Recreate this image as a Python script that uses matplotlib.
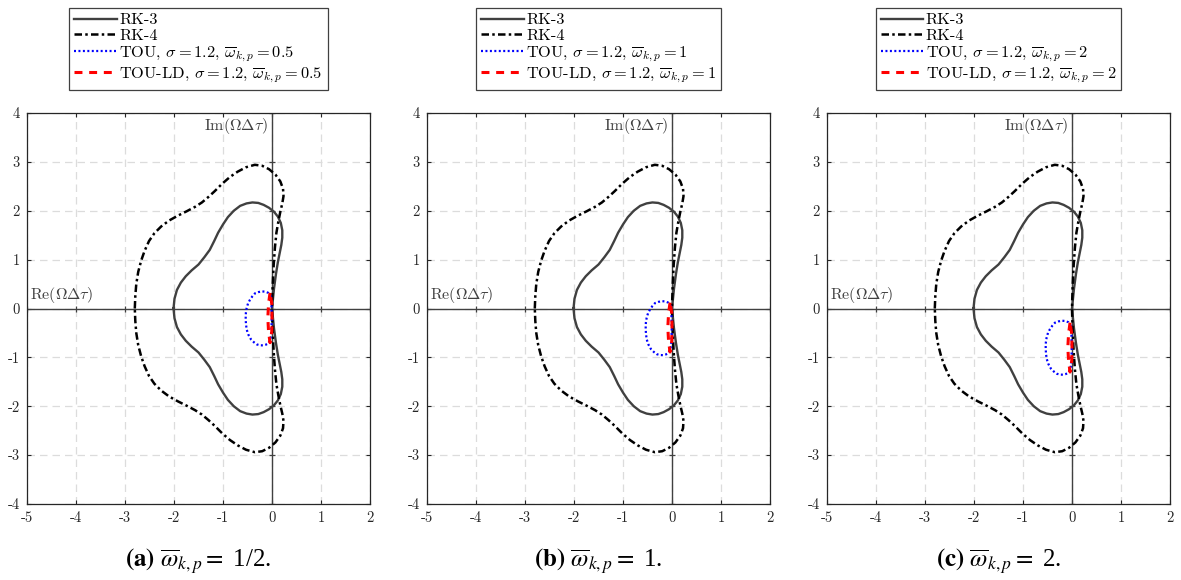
import numpy as np
import matplotlib
matplotlib.use('Agg')
import matplotlib.pyplot as plt

plt.rcParams['font.family'] = ['cmr10']
plt.rcParams['mathtext.fontset'] = 'cm'
plt.rcParams['axes.unicode_minus'] = False

# stability boundaries (upper half, curves are symmetric)
rk3_re = [-2.01, -1.99, -1.94, -1.86, -1.76, -1.64, -1.50, -1.38, -1.27, -1.18,
          -1.10, -1.00, -0.90, -0.78, -0.65, -0.52, -0.40, -0.28, -0.17, -0.06,
          0.04, 0.12, 0.18, 0.21, 0.21, 0.19, 0.16, 0.12, 0.08, 0.04, 0.015, 0.0]
rk3_im = [0.0, 0.20, 0.38, 0.53, 0.66, 0.78, 0.90, 1.05, 1.20, 1.38,
          1.55, 1.72, 1.87, 2.00, 2.10, 2.15, 2.17, 2.16, 2.12, 2.06,
          1.98, 1.88, 1.75, 1.60, 1.45, 1.30, 1.15, 0.95, 0.70, 0.40, 0.15, 0.0]

rk4_re = [-2.80, -2.79, -2.77, -2.73, -2.67, -2.60, -2.51, -2.40, -2.26, -2.10,
          -1.92, -1.74, -1.57, -1.43, -1.30, -1.17, -1.02, -0.86, -0.70, -0.53,
          -0.35, -0.20, -0.06, 0.07, 0.17, 0.225, 0.235, 0.21, 0.17, 0.13,
          0.09, 0.06, 0.035, 0.015, 0.005, 0.0]
rk4_im = [0.0, 0.25, 0.50, 0.75, 0.98, 1.18, 1.38, 1.54, 1.68, 1.80,
          1.90, 1.99, 2.08, 2.17, 2.28, 2.40, 2.55, 2.69, 2.80, 2.89,
          2.94, 2.92, 2.85, 2.74, 2.60, 2.45, 2.30, 2.15, 1.98, 1.78,
          1.55, 1.25, 0.90, 0.50, 0.20, 0.0]

# TOU curves, one per panel
tou_re = [-0.02, -0.075, -0.14, -0.21, -0.28, -0.347, -0.40, -0.449, -0.49, -0.517,
          -0.533, -0.537, -0.532, -0.517, -0.48, -0.43, -0.37, -0.31, -0.245, -0.18,
          -0.125, -0.075, -0.04, -0.02, -0.01, -0.005, -0.01, -0.02]
tou_im_a = [0.24, 0.32, 0.345, 0.35, 0.335, 0.31, 0.25, 0.18, 0.10, 0.01,
            -0.09, -0.19, -0.31, -0.43, -0.54, -0.63, -0.69, -0.735, -0.752, -0.755,
            -0.74, -0.714, -0.65, -0.565, -0.38, -0.19, 0.02, 0.24]
tou_im_b = [0.04, 0.12, 0.145, 0.15, 0.135, 0.11, 0.05, -0.02, -0.10, -0.19,
            -0.29, -0.39, -0.51, -0.63, -0.74, -0.83, -0.89, -0.935, -0.952, -0.955,
            -0.94, -0.914, -0.85, -0.765, -0.58, -0.39, -0.18, 0.04]
tou_im_c = [-0.36, -0.28, -0.255, -0.25, -0.265, -0.29, -0.35, -0.42, -0.50, -0.59,
            -0.69, -0.79, -0.91, -1.03, -1.14, -1.23, -1.29, -1.335, -1.352, -1.355,
            -1.34, -1.314, -1.25, -1.165, -0.98, -0.79, -0.58, -0.36]

# TOU-LD curves
ld_re = [-0.04, -0.07, -0.085, -0.07, -0.04, -0.005, 0.0, -0.005, -0.04]
ld_im_a = [0.32, 0.1, -0.19, -0.48, -0.70, -0.48, -0.19, 0.1, 0.32]
ld_im_b = [0.12, -0.1, -0.385, -0.67, -0.89, -0.67, -0.385, -0.1, 0.12]
ld_im_c = [-0.29, -0.52, -0.795, -1.07, -1.30, -1.07, -0.795, -0.52, -0.29]

omega_vals = ['0.5', '1', '2']
captions = ['1/2.', '1.', '2.']
letters = ['(a)', '(b)', '(c)']
tou_ims = [tou_im_a, tou_im_b, tou_im_c]
ld_ims = [ld_im_a, ld_im_b, ld_im_c]

xticks = [-5, -4, -3, -2, -1, 0, 1, 2]
yticks = [-4, -3, -2, -1, 0, 1, 2, 3, 4]


def closed(re, im):
    re = np.array(re)
    im = np.array(im)
    return np.r_[re, re[-2::-1]], np.r_[im, -im[-2::-1]]


rk3_x, rk3_y = closed(rk3_re, rk3_im)
rk4_x, rk4_y = closed(rk4_re, rk4_im)

fig = plt.figure(figsize=(11.81, 5.8), dpi=100)
lefts = [27/1181, 427/1181, 827/1181]
axc = '#262626'

for i in range(3):
    ax = fig.add_axes([lefts[i], 76/580, 343/1181, 391/580])
    ax.set_xlim(-5, 2)
    ax.set_ylim(-4, 4)
    ax.grid(True, color='#dcdcdc', linestyle=(0, (6, 4)), linewidth=0.9)
    ax.set_axisbelow(True)
    ax.axhline(0, color='#404040', lw=1.0, zorder=1.5)
    ax.axvline(0, color='#404040', lw=1.0, zorder=1.5)
    ax.plot(xticks, np.zeros(len(xticks)), ls='none', marker='|', ms=5,
            mew=0.9, color='#404040', zorder=1.5)
    ax.plot(np.zeros(len(yticks)), yticks, ls='none', marker='_', ms=5,
            mew=0.9, color='#404040', zorder=1.5)

    ax.plot(rk3_x, rk3_y, color='#404040', lw=1.7, label='RK-3')
    ax.plot(rk4_x, rk4_y, color='black', lw=1.8, ls=(0, (3, 1.3, 1, 1.3)),
            label='RK-4')
    ax.plot(tou_re, tou_ims[i], color='blue', lw=1.6, ls=(0, (0.9, 1.1)),
            label=r'TOU, $\sigma = 1.2$, $\overline{\omega}_{k,p} = %s$' % omega_vals[i])
    ax.plot(ld_re, ld_ims[i], color='red', lw=2.2, ls=(0, (2.6, 2.2)),
            label=r'TOU-LD, $\sigma = 1.2$, $\overline{\omega}_{k,p} = %s$' % omega_vals[i])

    ax.set_xticks(xticks, [str(v) for v in xticks])
    ax.set_yticks(yticks, [str(v) for v in yticks])
    ax.tick_params(direction='in', length=3, width=0.8, top=True, right=True,
                   labelsize=10.5, colors=axc, pad=5)
    for s in ax.spines.values():
        s.set_color(axc)
        s.set_linewidth(0.9)

    ax.text(-4.93, 0.08, r'$\mathrm{Re}(\Omega\Delta\tau)$', ha='left',
            va='bottom', fontsize=11.5, color='#404040')
    ax.text(-0.08, 3.93, r'$\mathrm{Im}(\Omega\Delta\tau)$', ha='right',
            va='top', fontsize=11.5, color='#404040')

    leg = ax.legend(loc='lower center', bbox_to_anchor=(0.5, 1.06), fontsize=11.8,
                    handlelength=2.6, handletextpad=0.15, labelspacing=0.08,
                    borderpad=0.3, borderaxespad=0, fancybox=False,
                    framealpha=1, edgecolor='#404040')
    leg.get_frame().set_linewidth(0.9)

    ax.text(0.5, -0.145,
            r'$\mathbf{%s}\ \overline{\omega}_{k,p} =$ %s' % (letters[i], captions[i]),
            transform=ax.transAxes, ha='center', va='center', fontsize=18,
            family='Liberation Serif', math_fontfamily='stix', color='black')

fig.savefig('out.png', dpi=100)
